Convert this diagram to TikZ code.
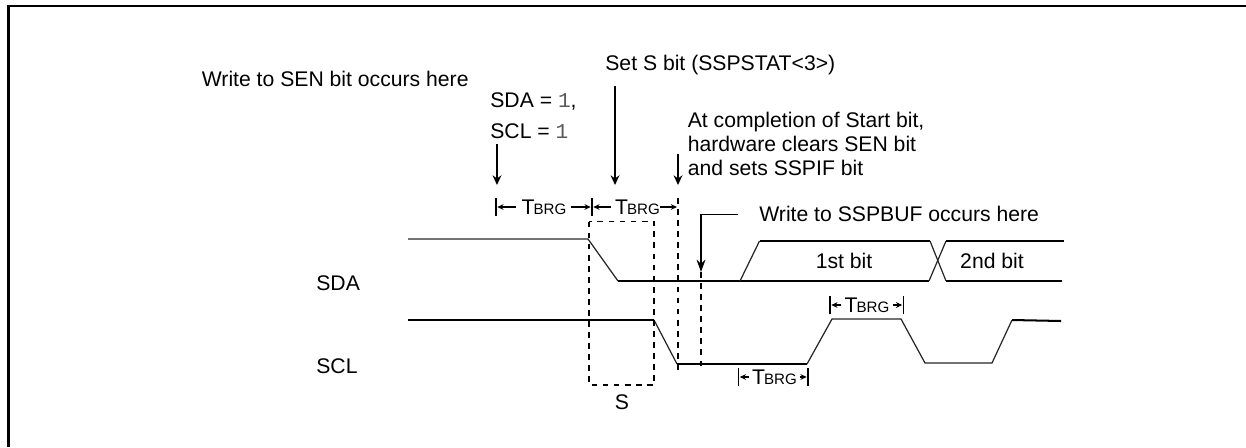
\documentclass[tikz,border=0pt]{standalone}
\usepackage{fontspec}
\setmainfont{Liberation Sans}
\setmonofont{Liberation Mono}
\usetikzlibrary{arrows.meta, positioning}
\newcommand{\tbrg}{T\kern-0.6pt{\fontsize{8.6}{10}\selectfont BRG}}
\newcommand{\one}{{\color{black!65}\ttfamily 1}}
\tikzset{
  label/.style    = {inner sep=0pt, font=\fontsize{12.05}{14}\selectfont},
  note/.style     = {label, anchor=west, align=left},
  signal/.style   = {line width=1.15pt},
  edge/.style     = {line width=0.7pt, black!85},
  guide/.style    = {line width=1.1pt, dash pattern=on 3.3pt off 3pt},
  pointer/.style  = {-{Stealth[length=5.5pt,width=5pt]}, line width=1.1pt},
  longpointer/.style = {-{Stealth[length=7pt,width=5pt]}, line width=1pt},
  span/.style     = {-{Stealth[length=3.5pt,width=3.2pt]}, line width=0.8pt},
  barmark/.style  = {inner sep=0pt, minimum width=1.1pt, minimum height=10.2pt, fill=black},
}
\begin{document}
\begin{tikzpicture}[x=0.02cm, y=-0.02cm]
  \useasboundingbox (0,0) rectangle (1246,447);
  \draw[line width=1.15pt] (8.5,447) -- (8.5,5.7) -- (1246,5.7);

  % labels
  \node[note] (write) at (201.5,79) {Write to SEN bit occurs here};
  \node[note] (setS) at (605,65.5) {Set S bit (SSPSTAT<3>)};
  \node[note] (sda1) at (490,101) {SDA = \one,};
  \node[note] (scl1) at (490,131) {SCL = \one};
  \node[note] (done) at (687.5,144) {At completion of Start bit,\\[-0.2pt]hardware clears SEN bit\\[-0.2pt]and sets SSPIF bit};
  \node[note] (wbuf) at (759,214) {Write to SSPBUF occurs here};
  \node[note] (sda) at (316,283) {SDA};
  \node[note] (scl) at (316,366) {SCL};
  \node[label] (bit1) at (844,261) {1st bit};
  \node[label] (bit2) at (992,261) {2nd bit};
  \node[label] (s) at (622,402) {S};

  % signals
  \draw[edge] (408,239) -- (588,239) -- (618,281);
  \draw[signal] (618,281) -- (929,281);
  \draw[edge] (929,281) -- (946,241);
  \draw[signal] (946,241) -- (1064,241);
  \draw[edge] (740,281) -- (759.5,241);
  \draw[signal] (759.5,241) -- (930,241);
  \draw[edge] (930,241) -- (946,281);
  \draw[signal] (946,281) -- (1062,281);
  \draw[signal] (408,320) -- (654,320);
  \draw[edge] (654,320) -- (677,364);
  \draw[signal] (677,364) -- (807,364);
  \draw[edge] (807,364) -- (832,319) -- (901,319) -- (925,363) -- (992,363) -- (1012,320);
  \draw[signal] (1012,320) -- (1061,321);

  % dashed guides
  \draw[guide] (589,221.5) rectangle (654,385);
  \draw[guide] (678,198) -- (678,372);
  \draw[guide] (701,272) -- (701,370);

  % pointers
  \coordinate (p1) at (497,144);
  \coordinate (p1e) at (497,185);
  \coordinate (p2) at (615,86);
  \coordinate (p2e) at (615,185);
  \coordinate (p3) at (678,154);
  \coordinate (p3e) at (678,185);
  \coordinate (p4) at (738,214.5);
  \coordinate (p4c) at (701,214.5);
  \coordinate (p4e) at (701,272);
  \draw[pointer] (p1) -- (p1e);
  \draw[pointer] (p2) -- (p2e);
  \draw[pointer] (p3) -- (p3e);
  \draw[longpointer] (p4) -- (p4c) -- (p4e);

  % TBRG spans
  \node[barmark] (a0) at (496,207) {};
  \node[barmark] (a1) at (592,207) {};
  \coordinate (a2) at (677,207);
  \node[label] (t1) at (544,207) {\tbrg};
  \node[label] (t2) at (637.5,207) {\tbrg};
  \draw[span] (516,207) -- (a0);
  \draw[span] (571,207) -- (a1);
  \draw[span] (611,207) -- (a1);
  \draw[span] (t2.east) -- (a2);

  \node[barmark] (b0) at (830,305) {};
  \node[barmark] (b1) at (903.5,305) {};
  \node[label] (t3) at (867,305) {\tbrg};
  \draw[span] (t3.west) ++(-3,0) -- (b0);
  \draw[span] (t3.east) ++(3,0) -- (b1);

  \node[barmark] (c0) at (738.5,377) {};
  \node[barmark] (c1) at (808,377) {};
  \node[label] (t4) at (774.5,377) {\tbrg};
  \draw[span] (t4.west) ++(-3,0) -- (c0);
  \draw[span] (t4.east) ++(3,0) -- (c1);
\end{tikzpicture}
\end{document}
